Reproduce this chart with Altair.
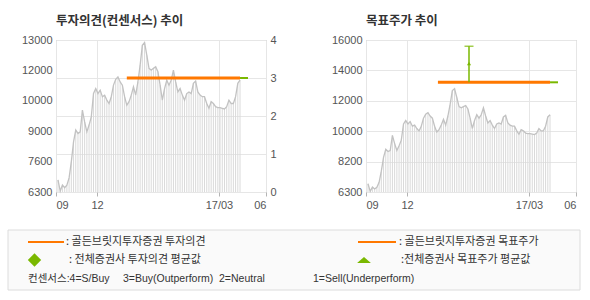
import altair as alt
import pandas as pd

# ---------------- data ----------------
# stock price (trading-day samples)
price = [6830, 6340, 6610, 6490, 6600, 6920, 7630, 8510, 9030, 8880, 8950, 9910,
         9390, 8950, 9250, 9610, 10640, 10860, 10640, 10790, 10500, 10570, 10350,
         10200, 10500, 11010, 11270, 11370, 11150, 11010, 10500, 10130, 10280,
         10570, 10940, 10570, 11150, 11890, 12770, 12890, 12330, 11750, 11670,
         11750, 11820, 11600, 11010, 10350, 10860, 11230, 11010, 11230, 11670,
         11150, 10710, 10860, 10570, 10350, 10640, 10710, 10640, 11090, 11190,
         10710, 10570, 10500, 10500, 10200, 9990, 10280, 10200, 10060, 10020,
         10020, 9990, 9960, 10060, 10350, 10200, 10200, 10500, 11090, 11230]
day = list(range(len(price)))

x_domain = [-0.9, 93.7]
x_tick_days = [-0.9, 17.57, 72.5, 93.7]
x_tick_labels = ["09", "12", "17/03", "06"]

left_price_ticks = [6300, 7640, 8980, 10320, 11660, 13000]
left_price_labels = ["6300", "7600", "9000", "10000", "12000", "13000"]
right_price_ticks = [6300, 8240, 10180, 12120, 14060, 16000]
right_price_labels = ["6300", "8200", "10000", "12000", "14000", "16000"]
opinion_ticks = [0, 1, 2, 3, 4]

# opinion (consensus scale 1-4)
gb_opinion = {"start": 31, "end": 82, "value": 3}
avg_opinion = {"start": 82, "end": 85.6, "value": 3}
# target price
gb_target = {"start": 31.5, "end": 82, "value": 13300}
avg_target_line = {"start": 82, "end": 85.6, "value": 13300}
target_range = {"day": 45.5, "low": 13300, "high": 15600, "avg": 14500}

titles = ["투자의견(컨센서스) 추이", "목표주가 추이"]
legend_texts = [": 골든브릿지투자증권  투자의견", ": 골든브릿지투자증권  목표주가",
                ": 전체증권사 투자의견 평균값", ":전체증권사 목표주가 평균값"]
consensus_texts = ["컨센서스:4=S/Buy", "3=Buy(Outperform)", "2=Neutral", "1=Sell(Underperform)"]

ORANGE = "#FF7800"
GREEN = "#7AB800"
NUM_FONT = "Liberation Sans"
KR_FONT = "Noto Sans CJK KR"
MIX_FONT = "Liberation Sans, Noto Sans CJK KR"
GRID = "#e6e6e6"

price_df = pd.DataFrame({"day": day, "price": price})


def label_expr(values, labels):
    return "[" + ",".join("'%s'" % l for l in labels) + "][indexof([" + \
        ",".join(str(v) for v in values) + "], datum.value)]"


x_axis = alt.Axis(values=x_tick_days, labelExpr=label_expr(x_tick_days, x_tick_labels),
                  title=None, grid=True, gridColor=GRID, domain=False, ticks=True,
                  tickSize=4, tickColor="#b4b4b4", labelPadding=3,
                  minExtent=25, maxExtent=25)
x_scale = alt.Scale(domain=x_domain, nice=False, zero=False)
xenc = alt.X("day:Q", scale=x_scale, axis=x_axis)
seg_x = alt.X("start:Q", scale=x_scale, axis=x_axis)


def price_axis(ticks, labels, grid, extent):
    return alt.Axis(values=ticks, labelExpr=label_expr(ticks, labels), title=None,
                    grid=grid, gridColor=GRID, domain=False, ticks=False,
                    labelPadding=4, minExtent=extent, maxExtent=extent)


def price_layers(scale, axis):
    yenc = alt.Y("price:Q", scale=scale, axis=axis)
    base = alt.Chart(price_df)
    bars = base.mark_rule(color="#dadada", strokeWidth=1).encode(
        x=xenc, y=yenc, y2=alt.datum(scale.domain[0]))
    line = base.mark_line(color="#c2c2c2", strokeWidth=1.3).encode(x=xenc, y=yenc)
    return bars, line


# ---------------- left panel ----------------
l_scale = alt.Scale(domain=[6300, 13000], nice=False, zero=False)
l_axis = price_axis(left_price_ticks, left_price_labels, False, 48)
lb, ll = price_layers(l_scale, l_axis)
op_axis = alt.Axis(orient="right", values=opinion_ticks, title=None, grid=True, gridColor=GRID,
                   domain=False, ticks=False, labelPadding=4, minExtent=20, maxExtent=20)
op_y = alt.Y("value:Q", scale=alt.Scale(domain=[0, 4], nice=False, zero=False), axis=op_axis)

gb_op = alt.Chart(pd.DataFrame([gb_opinion])).mark_rule(color=ORANGE, strokeWidth=3).encode(
    x=seg_x, x2="end:Q", y=op_y)
avg_op = alt.Chart(pd.DataFrame([avg_opinion])).mark_rule(color=GREEN, strokeWidth=2).encode(
    x=seg_x, x2="end:Q", y=op_y)

left = alt.layer(alt.layer(lb, ll), alt.layer(gb_op, avg_op)).resolve_scale(
    y="independent").properties(width=210, height=152, title=titles[0])

# ---------------- right panel ----------------
r_scale = alt.Scale(domain=[6300, 16000], nice=False, zero=False)
r_axis = price_axis(right_price_ticks, right_price_labels, True, 35)
rb, rl = price_layers(r_scale, r_axis)

gb_tp = alt.Chart(pd.DataFrame([gb_target])).mark_rule(color=ORANGE, strokeWidth=3).encode(
    x=seg_x, x2="end:Q", y=alt.Y("value:Q", scale=r_scale, axis=r_axis))
avg_tp = alt.Chart(pd.DataFrame([avg_target_line])).mark_rule(color=GREEN, strokeWidth=2).encode(
    x=seg_x, x2="end:Q", y=alt.Y("value:Q", scale=r_scale, axis=r_axis))
rng_df = pd.DataFrame([target_range])
rng = alt.Chart(rng_df).mark_rule(color=GREEN, strokeWidth=1.5).encode(
    x=xenc, y=alt.Y("low:Q", scale=r_scale, axis=r_axis), y2="high:Q")
cap = alt.Chart(rng_df).mark_tick(color=GREEN, orient="horizontal", size=9, thickness=1.5).encode(
    x=xenc, y=alt.Y("high:Q", scale=r_scale, axis=r_axis))
avg_mark = alt.Chart(rng_df).mark_point(shape="triangle-up", filled=True, opacity=1,
                                        color=GREEN, size=16).encode(
    x=xenc, y=alt.Y("avg:Q", scale=r_scale, axis=r_axis))

right = alt.layer(rb, rl, gb_tp, avg_tp, rng, cap, avg_mark).properties(
    width=210, height=152, title=titles[1])

# ---------------- legend box ----------------
one = alt.Data(values=[{}])
LX = -48  # legend drawn from the left edge of the chart, left of the aligned view origin


def txt(s, x, y, size=11, font=KR_FONT):
    return alt.Chart(one).mark_text(text=s, align="left", baseline="middle", font=font,
                                    fontSize=size, color="#333333").encode(
        x=alt.value(LX + x), y=alt.value(y))


leg_layers = [
    alt.Chart(one).mark_rect(fill="#fafafa", stroke="#dcdcdc", strokeWidth=1).encode(
        x=alt.value(LX), x2=alt.value(LX + 572), y=alt.value(0), y2=alt.value(60)),
    alt.Chart(one).mark_rule(color=ORANGE, strokeWidth=2).encode(
        x=alt.value(LX + 20), x2=alt.value(LX + 56), y=alt.value(12)),
    alt.Chart(one).mark_rule(color=ORANGE, strokeWidth=2).encode(
        x=alt.value(LX + 350), x2=alt.value(LX + 388), y=alt.value(12)),
    alt.Chart(one).mark_point(shape="diamond", filled=True, opacity=1, color=GREEN, size=180).encode(
        x=alt.value(LX + 26.5), y=alt.value(30)),
    alt.Chart(one).mark_point(shape="M0,-0.45L1,0.45L-1,0.45Z", filled=True, opacity=1,
                              color=GREEN, size=190).encode(x=alt.value(LX + 356), y=alt.value(30)),
    txt(legend_texts[0], 58, 12),
    txt(legend_texts[1], 391, 12),
    txt(legend_texts[2], 61, 30),
    txt(legend_texts[3], 393, 30),
    txt(consensus_texts[0], 20, 49, 10.5, MIX_FONT),
    txt(consensus_texts[1], 115, 49, 10.5, MIX_FONT),
    txt(consensus_texts[2], 211, 49, 10.5, MIX_FONT),
    txt(consensus_texts[3], 305, 49, 10.5, MIX_FONT),
]
legend = alt.layer(*leg_layers).properties(
    width=500, height=60, view=alt.ViewBackground(strokeOpacity=0, fillOpacity=0))

chart = alt.vconcat(alt.hconcat(left, right, spacing=43), legend, spacing=11).properties(
    padding={"left": 7, "top": 14, "right": 0, "bottom": 0}
).configure_view(stroke="#b4b4b4", strokeWidth=1).configure_title(
    font=KR_FONT, fontSize=12.5, fontWeight="bold", color="#333333", anchor="start",
    frame="group", offset=7
).configure_axis(labelFont=NUM_FONT, labelFontSize=11, labelColor="#555555")

chart.save("out.html", embed_options={"renderer": "svg", "actions": False})
